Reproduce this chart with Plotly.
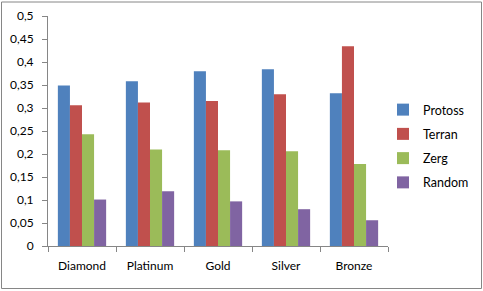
import plotly.graph_objects as go

categories = ["Diamond", "Platinum", "Gold", "Silver", "Bronze"]
protoss = [0.349, 0.358, 0.380, 0.384, 0.332]
terran = [0.306, 0.312, 0.315, 0.330, 0.434]
zerg = [0.243, 0.210, 0.208, 0.206, 0.178]
random_ = [0.101, 0.119, 0.097, 0.080, 0.056]
series_names = ["Protoss", "Terran", "Zerg", "Random"]
colors = ["#4F81BD", "#C0504D", "#9BBB59", "#8064A2"]
yticks = [0, 0.05, 0.1, 0.15, 0.2, 0.25, 0.3, 0.35, 0.4, 0.45, 0.5]

W, H = 483, 291
ml, mr, mt, mb = 48, 2, 16, 45
plot_right = 388

fig = go.Figure()
for name, vals, c in zip(series_names, [protoss, terran, zerg, random_], colors):
    fig.add_trace(go.Bar(x=categories, y=vals, name=name, marker=dict(color=c, line=dict(width=0)),
                         legendgroup=name))

pw = W - ml - mr
ph = H - mt - mb
def px_x(p):
    return (p - ml) / pw
def px_y(p):
    return (H - mb - p) / ph

fig.add_shape(type="rect", xref="paper", yref="paper",
              x0=px_x(1.5), x1=px_x(481.5), y0=px_y(288.5), y1=px_y(2),
              line=dict(color="#868686", width=1), fillcolor="rgba(0,0,0,0)", layer="below")

fig.update_layout(
    width=W, height=H,
    margin=dict(l=ml, r=mr, t=mt, b=mb, pad=0),
    paper_bgcolor="white", plot_bgcolor="white",
    separators=", ",
    barmode="group", bargap=0.29, bargroupgap=0,
    font=dict(family="Lato, 'Open Sans', sans-serif", size=12, color="#000000"),
    showlegend=True,
    legend=dict(x=px_x(383), y=px_y(95), xanchor="left", yanchor="top",
                traceorder="grouped", tracegroupgap=5, itemwidth=30,
                font=dict(size=12.5), bgcolor="rgba(0,0,0,0)"),
    xaxis=dict(domain=[0, px_x(plot_right)], automargin=False,
               showline=True, linecolor="#868686", linewidth=1, ticks="outside", ticklen=5,
               tickcolor="#868686", tickson="boundaries", showgrid=False, zeroline=False,
               ticklabelstandoff=9, tickfont=dict(size=12)),
    yaxis=dict(range=[0, 0.5], tickvals=yticks, automargin=False,
               showline=True, linecolor="#868686", linewidth=1,
               ticks="outside", ticklen=5, tickcolor="#868686", showgrid=False, zeroline=False,
               ticklabelstandoff=6, tickfont=dict(size=12)),
)
fig.write_html("out.html")
